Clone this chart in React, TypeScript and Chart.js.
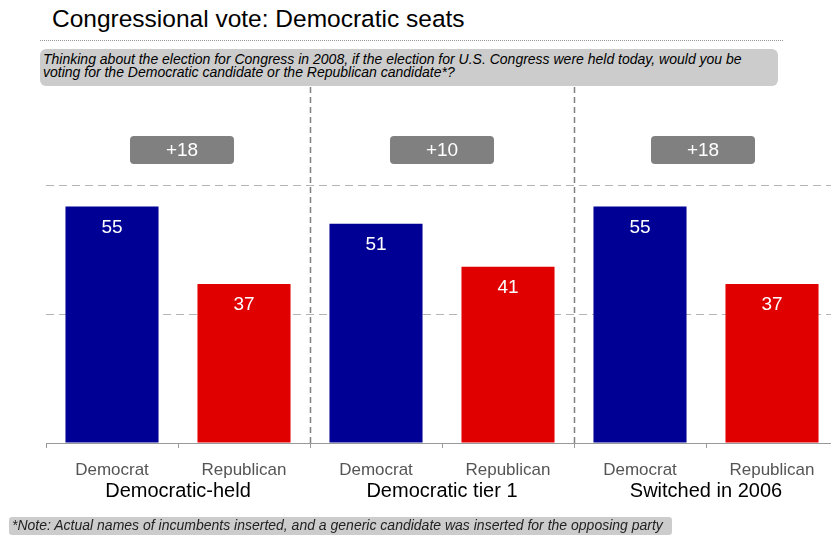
import React, { useEffect, useRef } from "react";
import { Chart, registerables } from "chart.js";
Chart.register(...registerables);

const barLabels = ["Democrat", "Republican", "Democrat", "Republican", "Democrat", "Republican"];
const values = [55, 37, 51, 41, 55, 37];
const groupLabels = ["Democratic-held", "Democratic tier 1", "Switched in 2006"];
const spreads = ["+18", "+10", "+18"];
const barColors = ["#000094", "#e00000", "#000094", "#e00000", "#000094", "#e00000"];
const yTicks = [0, 30, 60];

const FONT = "'Liberation Sans', Arial, sans-serif";

function rr(ctx: CanvasRenderingContext2D, x: number, y: number, w: number, h: number, r: number) {
  ctx.beginPath();
  ctx.moveTo(x + r, y);
  ctx.lineTo(x + w - r, y);
  ctx.quadraticCurveTo(x + w, y, x + w, y + r);
  ctx.lineTo(x + w, y + h - r);
  ctx.quadraticCurveTo(x + w, y + h, x + w - r, y + h);
  ctx.lineTo(x + r, y + h);
  ctx.quadraticCurveTo(x, y + h, x, y + h - r);
  ctx.lineTo(x, y + r);
  ctx.quadraticCurveTo(x, y, x + r, y);
  ctx.closePath();
}

const overlay = {
  id: "overlay",
  afterDraw(chart: any) {
    const ctx: CanvasRenderingContext2D = chart.ctx;
    const xs = chart.scales.x;
    const area = chart.chartArea;
    const meta = chart.getDatasetMeta(0);
    ctx.save();
    // separators
    ctx.strokeStyle = "#808080";
    ctx.lineWidth = 1.5;
    ctx.setLineDash([6, 4]);
    [1, 3].forEach((i) => {
      const x = Math.round((xs.getPixelForValue(i) + xs.getPixelForValue(i + 1)) / 2) + 0.5;
      ctx.beginPath();
      ctx.moveTo(x, 87);
      ctx.lineTo(x, area.bottom);
      ctx.stroke();
    });
    ctx.setLineDash([]);
    // value labels
    ctx.fillStyle = "#ffffff";
    ctx.font = `19px ${FONT}`;
    ctx.textAlign = "center";
    ctx.textBaseline = "middle";
    meta.data.forEach((bar: any, i: number) => {
      ctx.fillText(String(values[i]), bar.x, bar.y + 21);
    });
    // spread boxes
    spreads.forEach((s, g) => {
      const cx = (xs.getPixelForValue(g * 2) + xs.getPixelForValue(g * 2 + 1)) / 2 + (g === 0 ? 4 : g === 2 ? -3 : 0);
      ctx.fillStyle = "#808080";
      rr(ctx, cx - 52, 136, 104, 28, 4);
      ctx.fill();
      ctx.fillStyle = "#ffffff";
      ctx.font = `19px ${FONT}`;
      ctx.fillText(s, cx, 151);
    });
    // group labels
    ctx.fillStyle = "#000000";
    ctx.font = `20px ${FONT}`;
    groupLabels.forEach((t, g) => {
      const cx = (xs.getPixelForValue(g * 2) + xs.getPixelForValue(g * 2 + 1)) / 2;
      ctx.fillText(t, cx, 491);
    });
    ctx.restore();
  },
};

export default function App() {
  const ref = useRef<HTMLCanvasElement>(null);
  useEffect(() => {
    const chart = new Chart(ref.current!, {
      type: "bar",
      data: {
        labels: barLabels,
        datasets: [
          {
            data: values,
            backgroundColor: barColors,
            borderWidth: 0,
            barPercentage: 0.705,
            categoryPercentage: 1,
          },
        ],
      },
      options: {
        animation: false,
        responsive: false,
        maintainAspectRatio: false,
        layout: { padding: { left: 46, top: 185, right: 12, bottom: 0 } },
        plugins: { legend: { display: false }, tooltip: { enabled: false } },
        scales: {
          y: {
            min: yTicks[0],
            max: yTicks[yTicks.length - 1],
            afterBuildTicks: (s: any) => {
              s.ticks = yTicks.map((v) => ({ value: v }));
            },
            afterFit: (s: any) => {
              s.width = 0;
            },
            ticks: { display: false },
            border: { display: false, dash: [8, 5] },
            grid: { color: "#b4b4b4", lineWidth: 1, drawTicks: false },
          },
          x: {
            afterFit: (s: any) => {
              s.height = 92;
            },
            grid: { offset: true, drawOnChartArea: false, drawTicks: true, tickLength: 5, color: "#999999" },
            border: { display: true, color: "#999999", width: 1 },
            ticks: { color: "#555555", font: { family: FONT, size: 17 }, padding: 12, maxRotation: 0, autoSkip: false },
          },
        },
      },
      plugins: [overlay],
    });
    return () => chart.destroy();
  }, []);

  return (
    <div style={{ position: "fixed", left: 0, top: 0, width: 831, height: 535, overflow: "hidden", background: "#fff", fontFamily: FONT }}>
      <div style={{ position: "absolute", left: 52, top: 5, fontSize: 24.5, color: "#000", whiteSpace: "nowrap" }}>
        Congressional vote: Democratic seats
      </div>
      <div style={{ position: "absolute", left: 40, top: 40, width: 743, borderTop: "1px dotted #999" }} />
      <div
        style={{
          position: "absolute",
          left: 40,
          top: 49,
          width: 738,
          height: 37,
          background: "#cccccc",
          borderRadius: 6,
          boxSizing: "border-box",
          padding: "4px 0 0 3px",
          fontSize: 14,
          fontStyle: "italic",
          lineHeight: "13px",
          color: "#000",
          whiteSpace: "nowrap",
        }}
      >
        Thinking about the election for Congress in 2008, if the election for U.S. Congress were held today, would you be
        <br />
        voting for the Democratic candidate or the Republican candidate*?
      </div>
      <canvas ref={ref} width={850} height={535} style={{ position: "absolute", left: 0, top: 0, width: 850, height: 535 }} />
      <div
        style={{
          position: "absolute",
          left: 9,
          top: 517,
          width: 663,
          height: 18,
          background: "#cccccc",
          borderRadius: 3,
          boxSizing: "border-box",
          padding: "1px 0 0 3px",
          fontSize: 14,
          fontStyle: "italic",
          lineHeight: "15px",
          color: "#222",
          whiteSpace: "nowrap",
        }}
      >
        *Note: Actual names of incumbents inserted, and a generic candidate was inserted for the opposing party
      </div>
    </div>
  );
}
